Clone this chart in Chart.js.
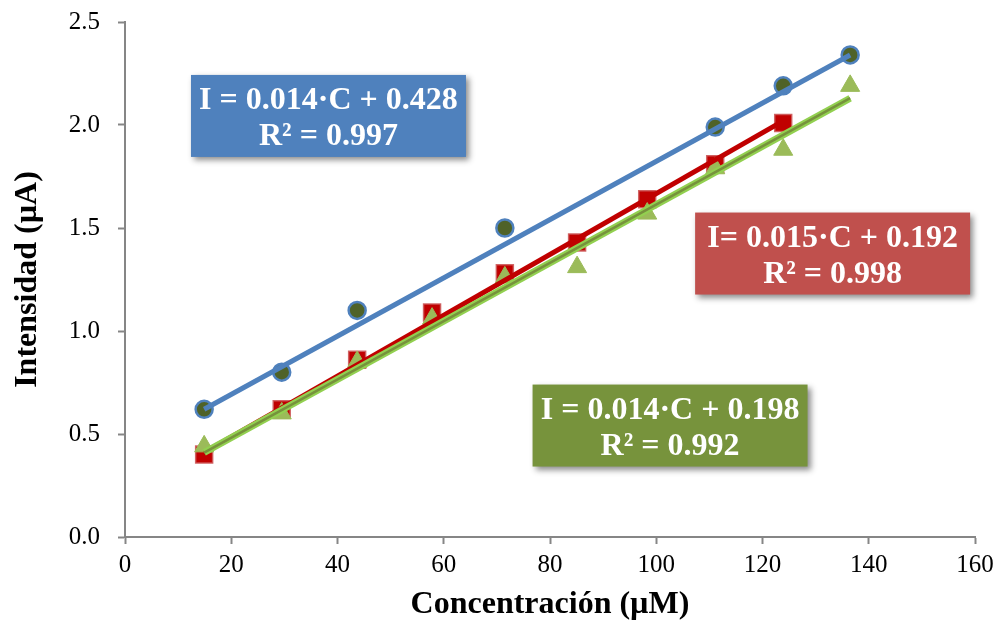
<!DOCTYPE html>
<html>
<head>
<meta charset="utf-8">
<script src="https://cdn.jsdelivr.net/npm/chart.js@4.4.1/dist/chart.umd.min.js"></script>
<style>
  html, body { margin: 0; padding: 0; background: #fff; }
  #wrap { width: 998px; height: 624px; }
</style>
</head>
<body>
<div id="wrap"><canvas id="chart"></canvas></div>
<script>
// concentrations (µM)
const concBlue  = [14.9, 29.5, 43.7, 71.5, 111.1, 123.9, 136.5];
const concRed   = [14.9, 29.5, 43.7, 57.8, 71.5, 85.1, 98.3, 111.1, 123.9];
const concGreen = [14.9, 29.5, 43.7, 57.8, 71.5, 85.1, 98.3, 111.1, 123.9, 136.5];

// intensity (µA)
const intBlue  = [0.62, 0.80, 1.10, 1.50, 1.99, 2.19, 2.34];
const intRed   = [0.40, 0.62, 0.86, 1.09, 1.28, 1.43, 1.64, 1.81, 2.01];
const intGreen = [0.44, 0.60, 0.85, 1.06, 1.26, 1.31, 1.57, 1.79, 1.88, 2.19];

// fitted line end points
const trendBlue  = [[14.9, 0.62], [136.5, 2.34]];
const trendRed   = [[14.9, 0.41], [123.9, 2.02]];
const trendGreen = [[14.9, 0.41], [136.5, 2.13]];

const xTicks = [0, 20, 40, 60, 80, 100, 120, 140, 160];
const yTicks = [0, 0.5, 1.0, 1.5, 2.0, 2.5];

// equation labels: text lines and box centre (data units)
const eqLabels = [
  { lines: ['I = 0.014\u00B7C + 0.428', 'R\u00B2 = 0.997'], cx: 38.3, cy: 2.044, color: '#4F81BD' },
  { lines: ['I= 0.015\u00B7C + 0.192', 'R\u00B2 = 0.998'], cx: 133.2, cy: 1.376, color: '#C0504D' },
  { lines: ['I = 0.014\u00B7C + 0.198', 'R\u00B2 = 0.992'], cx: 102.6, cy: 0.541, color: '#77933C' }
];

const pts = (xs, ys) => xs.map((x, i) => ({ x: x, y: ys[i] }));
const seg = (p) => p.map(d => ({ x: d[0], y: d[1] }));

const boxPlugin = {
  id: 'eqBoxes',
  afterDatasetsDraw(chart) {
    const ctx = chart.ctx;
    const xs = chart.scales.x, ys = chart.scales.y;
    const w = 275, h = 82;
    eqLabels.forEach(lb => {
      const cx = xs.getPixelForValue(lb.cx);
      const cy = ys.getPixelForValue(lb.cy);
      ctx.save();
      ctx.shadowColor = 'rgba(0,0,0,0.45)';
      ctx.shadowBlur = 6;
      ctx.shadowOffsetX = 3;
      ctx.shadowOffsetY = 3;
      ctx.fillStyle = lb.color;
      ctx.fillRect(cx - w / 2, cy - h / 2, w, h);
      ctx.restore();
      ctx.save();
      ctx.fillStyle = '#fff';
      ctx.font = 'bold 32px "Liberation Serif"';
      ctx.textAlign = 'center';
      ctx.textBaseline = 'alphabetic';
      ctx.fillText(lb.lines[0], cx, cy - 7);
      ctx.fillText(lb.lines[1], cx, cy + 29);
      ctx.restore();
    });
  }
};

const ctx = document.getElementById('chart').getContext('2d');
new Chart(ctx, {
  type: 'scatter',
  data: {
    datasets: [
      // fitted lines on top of markers
      { type: 'line', data: seg(trendGreen), borderColor: '#76923C', borderWidth: 2.5, pointRadius: 0, order: 0 },
      { type: 'line', data: seg(trendGreen), borderColor: '#92D050', borderWidth: 7, pointRadius: 0, order: 1 },
      { type: 'line', data: seg(trendRed), borderColor: '#C00000', borderWidth: 5, pointRadius: 0, order: 2 },
      { type: 'line', data: seg(trendBlue), borderColor: '#4F81BD', borderWidth: 5, pointRadius: 0, order: 3 },
      {
        label: 'green', data: pts(concGreen, intGreen), order: 4,
        pointStyle: 'triangle', pointRadius: 11,
        backgroundColor: '#9BBB59', borderColor: '#9BBB59', borderWidth: 1
      },
      {
        label: 'red', data: pts(concRed, intRed), order: 5,
        pointStyle: 'rect', pointRadius: 12,
        backgroundColor: '#C00000', borderColor: 'rgba(205,90,90,0.9)', borderWidth: 1.5
      },
      {
        label: 'blue', data: pts(concBlue, intBlue), order: 6,
        pointStyle: 'circle', pointRadius: 8.5,
        backgroundColor: '#4F6228', borderColor: '#4F81BD', borderWidth: 2.5
      }
    ]
  },
  options: {
    responsive: true,
    maintainAspectRatio: false,
    animation: false,
    layout: { padding: { top: 22, right: 23, left: 0, bottom: 0 } },
    plugins: {
      legend: { display: false },
      tooltip: { enabled: false }
    },
    scales: {
      x: {
        type: 'linear', min: 0, max: 160,
        afterBuildTicks: (s) => { s.ticks = xTicks.map(v => ({ value: v })); },
        afterFit: (s) => { s.height = 87; s.paddingLeft = 0; s.paddingRight = 0; },
        grid: { drawOnChartArea: false, drawTicks: true, tickLength: 7, tickWidth: 2, tickColor: '#868686' },
        border: { display: true, color: '#868686', width: 2 },
        ticks: { color: '#000', font: { family: 'Liberation Serif', size: 25 }, padding: 6, maxRotation: 0 },
        title: {
          display: true, text: 'Concentración (µM)', color: '#000',
          font: { family: 'Liberation Serif', size: 32, weight: 'bold' }, padding: { top: 0, bottom: 0 }
        }
      },
      y: {
        type: 'linear', min: 0, max: 2.5,
        afterBuildTicks: (s) => { s.ticks = yTicks.map(v => ({ value: v })); },
        afterFit: (s) => { s.width = 125; s.paddingTop = 0; s.paddingBottom = 0; },
        grid: { drawOnChartArea: false, drawTicks: true, tickLength: 7, tickWidth: 2, tickColor: '#868686' },
        border: { display: true, color: '#868686', width: 2 },
        ticks: { color: '#000', font: { family: 'Liberation Serif', size: 25 }, padding: 18, callback: (v) => v.toFixed(1) },
        title: {
          display: true, text: 'Intensidad (µA)', color: '#000',
          font: { family: 'Liberation Serif', size: 32, weight: 'bold' }, padding: { top: 9, bottom: 0 }
        }
      }
    }
  },
  plugins: [boxPlugin]
});
</script>
</body>
</html>
